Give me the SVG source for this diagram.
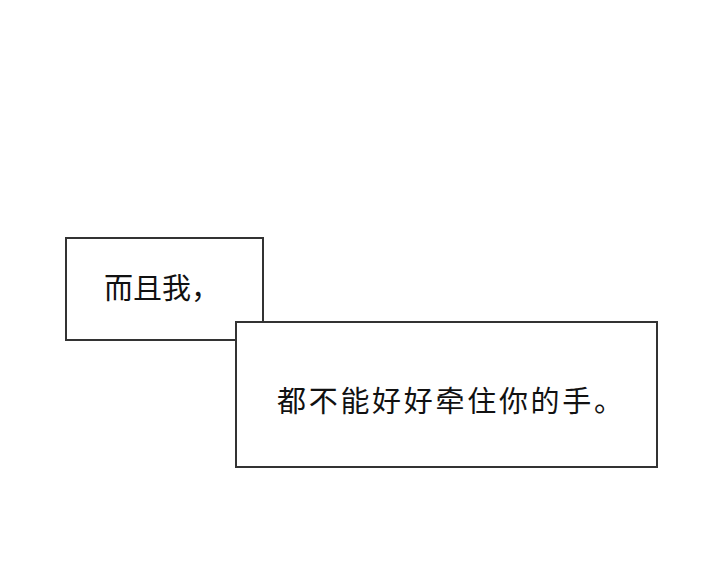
<svg xmlns="http://www.w3.org/2000/svg" width="720" height="563" viewBox="0 0 720 563">
<style>
.box{fill:#fff;stroke:#333;stroke-width:2}
.t{font-family:"Noto Sans CJK SC","Noto Sans",sans-serif;font-size:29px;fill:#111}
</style>
<rect width="720" height="563" fill="#fff"/>
<g id="box1"><rect class="box" x="66" y="238" width="197" height="102"/><text class="t" x="104" y="299">而且我，</text></g>
<g id="box2"><rect class="box" x="236" y="322" width="421" height="145"/><text class="t" x="277" y="412" textLength="346">都不能好好牵住你的手。</text></g>
<g id="connectors"/>
</svg>
